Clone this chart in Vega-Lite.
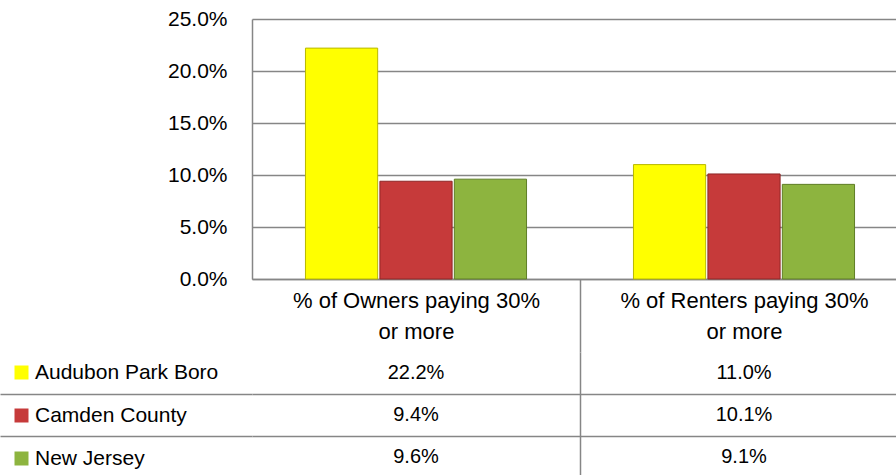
{
  "$schema": "https://vega.github.io/schema/vega-lite/v6.json",
  "autosize": "none",
  "padding": {"left": 252, "top": 19, "right": 644, "bottom": 456},
  "config": {
    "font": "Liberation Sans",
    "view": {"stroke": null},
    "concat": {"spacing": 0},
    "axis": {"labelColor": "#000000", "titleColor": "#000000"},
    "legend": {"labelColor": "#000000"}
  },
  "data": {
    "values": [
      {"category": "% of Owners paying 30% or more", "series": "Audubon Park Boro", "value": 0.222},
      {"category": "% of Owners paying 30% or more", "series": "Camden County", "value": 0.094},
      {"category": "% of Owners paying 30% or more", "series": "New Jersey", "value": 0.096},
      {"category": "% of Renters paying 30% or more", "series": "Audubon Park Boro", "value": 0.110},
      {"category": "% of Renters paying 30% or more", "series": "Camden County", "value": 0.101},
      {"category": "% of Renters paying 30% or more", "series": "New Jersey", "value": 0.091}
    ]
  },
  "bounds": "flush",
  "spacing": 0,
  "resolve": {"scale": {"x": "independent", "y": "independent"}},
  "vconcat": [
    {
      "width": 656,
      "height": 260,
      "mark": {"type": "bar", "strokeWidth": 1},
      "encoding": {
        "x": {
          "field": "category", "type": "nominal",
          "sort": ["% of Owners paying 30% or more", "% of Renters paying 30% or more"],
          "scale": {"paddingInner": 0.326, "paddingOuter": 0.163},
          "axis": {
            "title": null, "domain": true, "domainColor": "#868686", "domainWidth": 1.5,
            "ticks": true, "tickSize": 73, "tickOffset": 164, "tickColor": "#868686", "tickWidth": 1.5,
            "tickOpacity": {"condition": {"test": "datum.value === '% of Owners paying 30% or more'", "value": 1}, "value": 0},
            "labelAngle": 0, "labelFontSize": 22, "labelPadding": -62, "labelLineHeight": 31,
            "labelOffset": -164,
            "labelLimit": 0, "labelBaseline": "top",
            "labelExpr": "split(replace(datum.label, '30% ', '30%|'), '|')"
          }
        },
        "xOffset": {
          "field": "series", "type": "nominal",
          "sort": ["Audubon Park Boro", "Camden County", "New Jersey"],
          "scale": {"paddingInner": 0.03}
        },
        "y": {
          "field": "value", "type": "quantitative",
          "scale": {"domain": [0, 0.25]},
          "axis": {
            "title": null, "values": [0, 0.05, 0.1, 0.15, 0.2, 0.25], "format": ".1%",
            "ticks": false, "labelPadding": 25, "labelFontSize": 21,
            "grid": true, "gridColor": "#868686", "gridWidth": 1.5,
            "domain": true, "domainColor": "#868686", "domainWidth": 1.5
          }
        },
        "color": {
          "field": "series", "type": "nominal",
          "sort": ["Audubon Park Boro", "Camden County", "New Jersey"],
          "scale": {"range": ["#FFFF00", "#C63A3A", "#8DB43F"]},
          "legend": {
            "orient": "none", "legendX": -241, "legendY": 343, "title": null,
            "symbolType": "square", "symbolSize": 196, "symbolStrokeWidth": 0,
            "labelFontSize": 21, "labelOffset": 3, "rowPadding": 21, "padding": 0,
            "labelLimit": 0
          }
        },
        "stroke": {
          "field": "series", "type": "nominal",
          "sort": ["Audubon Park Boro", "Camden County", "New Jersey"],
          "scale": {"range": ["#B8B800", "#8E2626", "#5F7E26"]},
          "legend": null
        }
      }
    },
    {
      "width": 656,
      "height": 199,
      "mark": {"type": "text", "fontSize": 20, "color": "#000000"},
      "encoding": {
        "x": {
          "field": "category", "type": "nominal",
          "sort": ["% of Owners paying 30% or more", "% of Renters paying 30% or more"],
          "scale": {"paddingInner": 0, "paddingOuter": 0},
          "axis": {
            "orient": "top", "title": null, "labels": false, "domain": false, "ticks": false,
            "grid": true, "tickBand": "extent", "gridColor": "#868686", "gridWidth": 1.5,
            "gridOpacity": {"condition": {"test": "datum.value === '% of Owners paying 30% or more'", "value": 1}, "value": 0}
          }
        },
        "y": {
          "field": "series", "type": "nominal",
          "sort": ["Audubon Park Boro", "Camden County", "New Jersey"],
          "scale": {"range": [73, 199], "paddingInner": 0, "paddingOuter": 0},
          "axis": {
            "title": null, "labels": false, "domain": false, "ticks": true, "tickSize": 252,
            "tickBand": "extent", "tickColor": "#868686", "tickWidth": 1.5,
            "tickOpacity": {"condition": {"test": "datum.value === 'Audubon Park Boro' || datum.value === 'Camden County'", "value": 1}, "value": 0},
            "grid": true, "gridColor": "#868686", "gridWidth": 1.5,
            "gridOpacity": {"condition": {"test": "datum.value === 'Audubon Park Boro' || datum.value === 'Camden County'", "value": 1}, "value": 0}
          }
        },
        "text": {"field": "value", "type": "quantitative", "format": ".1%"}
      }
    }
  ]
}
